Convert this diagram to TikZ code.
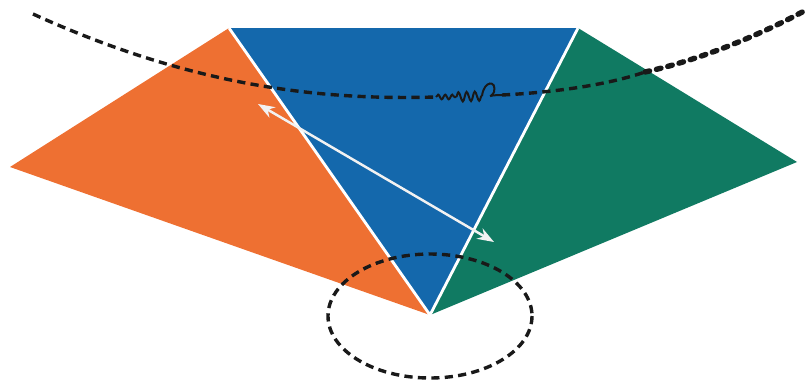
\documentclass[tikz,border=0pt]{standalone}
\usepackage{tikz}
\usetikzlibrary{arrows.meta,positioning,calc,decorations.pathmorphing}
\definecolor{faceorange}{RGB}{238,112,50}
\definecolor{faceblue}{RGB}{20,104,172}
\definecolor{facegreen}{RGB}{16,122,98}
\definecolor{inkdark}{RGB}{25,25,25}
\tikzset{
  seam/.style={white, line width=2.4pt},
  dashline/.style={inkdark, line width=2.9pt, dash pattern=on 7pt off 4.5pt},
  heavydash/.style={inkdark, line width=4.6pt, line cap=round, dash pattern=on 4pt off 6pt},
  wiggle/.style={inkdark, line width=1.7pt},
  twoarr/.style={{Stealth[length=5mm,width=3.6mm]}-{Stealth[length=5mm,width=3.6mm]}, gray!10, line width=2.1pt},
}
\begin{document}
\begin{tikzpicture}[x=0.3mm, y=-0.3mm]
  \useasboundingbox (0,0) rectangle (811,383);
  % --- corners
  \coordinate (left)  at (10,167);
  \coordinate (topl)  at (229,28);
  \coordinate (topr)  at (578,28);
  \coordinate (right) at (797,162);
  \coordinate (tip)   at (430,315);
  % --- faces
  \fill[faceorange] (left) -- (topl) -- (tip) -- cycle;
  \fill[faceblue]   (topl) -- (topr) -- (tip) -- cycle;
  \fill[facegreen]  (topr) -- (right) -- (tip) -- cycle;
  \draw[seam] (topl) -- (tip) -- (topr);
  % --- string
  \coordinate (sa) at (33,14);
  \coordinate (sb) at (436,97);
  \coordinate (sm) at (456,97);
  \coordinate (sc) at (482,96);
  \coordinate (sd) at (502,95);
  \coordinate (se) at (645,72);
  \coordinate (sf) at (806,10);
  \draw[dashline] (sa) .. controls (200,90) and (330,100) .. (sb);
  \draw[wiggle, decorate,
        decoration={snake, amplitude=2pt, segment length=6pt}] (sb) -- (sm);
  \draw[wiggle, decorate,
        decoration={snake, amplitude=4pt, segment length=7pt}] (sm) -- (sc);
  \draw[wiggle] (sc) .. controls (484,80) and (497,80) .. (494,92)
        .. controls (491,99) and (484,95) .. (sd);
  \draw[dashline] (sd) .. controls (560,92) and (610,84) .. (se);
  \draw[heavydash] (se) .. controls (700,60) and (760,35) .. (sf);
  % --- arrow
  \coordinate (arrL) at (258,104);
  \coordinate (arrR) at (494,242);
  \draw[twoarr] (arrL) -- (arrR);
  % --- ring
  \coordinate (ring) at (430,316);
  \draw[dashline] (ring) ellipse [x radius=102, y radius=62];
\end{tikzpicture}
\end{document}
